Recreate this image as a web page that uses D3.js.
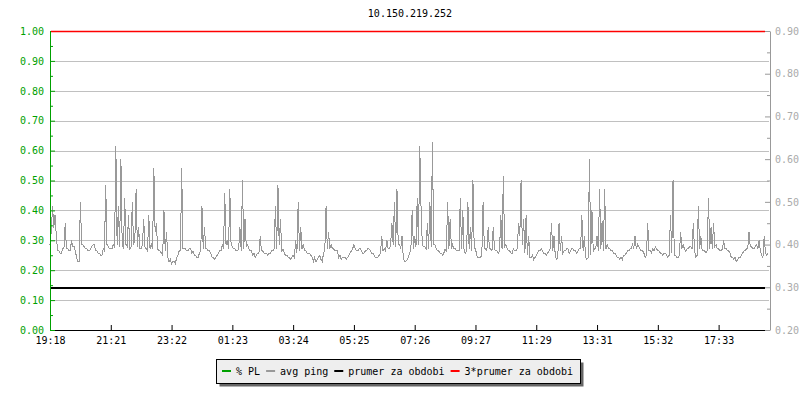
<!DOCTYPE html>
<html><head><meta charset="utf-8">
<script src="https://cdn.jsdelivr.net/npm/d3@7"></script>
<style>
body{margin:0;background:#fff}
svg{display:block}
text{font-family:"DejaVu Sans Mono","Liberation Mono",monospace;font-size:10px}
</style>
</head><body>
<svg id="c" width="800" height="400"></svg>
<script>
const chartTitle = "10.150.219.252";
const timeLabels = ["19:18","21:21","23:22","01:23","03:24","05:25","07:26","09:27","11:29","13:31","15:32","17:33"];
const labelStep = 48;
const leftTicks = [0,0.1,0.2,0.3,0.4,0.5,0.6,0.7,0.8,0.9,1.0];
const rightTicks = [0.2,0.3,0.4,0.5,0.6,0.7,0.8,0.9];
const legendLabels = ["% PL","avg ping","prumer za obdobi","3*prumer za obdobi"];
const seriesColors = ["#00a000","#999999","#000000","#ff0000"];
// avg ping (right axis), one value per sample
const avgPing = [
0.40,0.43,0.49,0.44,0.47,0.42,0.385,0.385,0.38,0.38,0.39,0.39,0.45,0.39,0.39,0.385,0.385,0.41,0.395,0.395,0.385,0.37,0.36,0.36,
0.50,0.40,0.40,0.395,0.39,0.39,0.385,0.385,0.39,0.395,0.40,0.40,0.385,0.385,0.38,0.38,0.375,0.375,0.39,0.385,0.54,0.40,0.395,0.39,
0.39,0.39,0.40,0.395,0.63,0.40,0.49,0.395,0.60,0.40,0.39,0.51,0.40,0.395,0.47,0.39,0.395,0.50,0.40,0.41,0.53,0.395,0.44,0.39,
0.39,0.40,0.46,0.395,0.39,0.385,0.47,0.39,0.40,0.39,0.58,0.43,0.45,0.39,0.385,0.385,0.38,0.375,0.48,0.385,0.43,0.37,0.36,0.365,
0.355,0.36,0.36,0.355,0.37,0.375,0.385,0.385,0.58,0.39,0.39,0.39,0.385,0.385,0.39,0.39,0.38,0.385,0.375,0.375,0.37,0.37,0.38,0.385,
0.49,0.39,0.44,0.39,0.39,0.385,0.385,0.38,0.37,0.37,0.365,0.37,0.375,0.38,0.385,0.385,0.40,0.39,0.52,0.40,0.41,0.39,0.53,0.40,
0.395,0.39,0.39,0.385,0.385,0.39,0.44,0.385,0.55,0.39,0.46,0.395,0.40,0.39,0.385,0.385,0.375,0.38,0.37,0.375,0.38,0.38,0.42,0.385,
0.385,0.38,0.38,0.38,0.375,0.38,0.38,0.385,0.385,0.39,0.49,0.39,0.54,0.40,0.46,0.385,0.39,0.38,0.375,0.375,0.37,0.37,0.365,0.37,
0.375,0.37,0.41,0.38,0.50,0.385,0.44,0.39,0.40,0.385,0.385,0.38,0.38,0.38,0.375,0.37,0.36,0.37,0.36,0.365,0.37,0.375,0.365,0.36,
0.38,0.385,0.49,0.39,0.43,0.39,0.40,0.39,0.39,0.385,0.385,0.385,0.37,0.375,0.365,0.37,0.37,0.37,0.365,0.37,0.375,0.38,0.385,0.39,
0.40,0.39,0.385,0.385,0.39,0.39,0.385,0.38,0.38,0.385,0.385,0.39,0.39,0.385,0.38,0.38,0.375,0.37,0.37,0.37,0.375,0.38,0.42,0.385,
0.39,0.385,0.41,0.39,0.39,0.40,0.45,0.40,0.50,0.395,0.53,0.40,0.40,0.39,0.42,0.37,0.36,0.36,0.365,0.37,0.38,0.39,0.48,0.39,
0.42,0.395,0.51,0.40,0.63,0.49,0.40,0.395,0.395,0.39,0.45,0.39,0.50,0.395,0.64,0.40,0.40,0.39,0.385,0.385,0.38,0.38,0.375,0.38,
0.39,0.385,0.50,0.39,0.46,0.39,0.40,0.39,0.39,0.385,0.385,0.385,0.51,0.39,0.48,0.385,0.38,0.385,0.50,0.39,0.44,0.385,0.55,0.39,
0.39,0.375,0.37,0.37,0.37,0.375,0.50,0.39,0.39,0.385,0.44,0.39,0.39,0.385,0.44,0.39,0.385,0.385,0.38,0.385,0.47,0.39,0.56,0.395,
0.40,0.39,0.385,0.385,0.38,0.38,0.39,0.385,0.385,0.39,0.45,0.42,0.55,0.40,0.46,0.38,0.47,0.375,0.42,0.37,0.37,0.375,0.365,0.37,
0.375,0.38,0.385,0.385,0.39,0.385,0.38,0.38,0.375,0.38,0.385,0.39,0.45,0.385,0.42,0.375,0.365,0.37,0.45,0.385,0.42,0.38,0.385,0.385,
0.39,0.39,0.38,0.385,0.39,0.39,0.385,0.385,0.38,0.385,0.39,0.39,0.47,0.385,0.42,0.37,0.365,0.37,0.60,0.375,0.48,0.385,0.39,0.39,
0.42,0.385,0.53,0.39,0.455,0.385,0.53,0.39,0.40,0.39,0.39,0.385,0.385,0.38,0.38,0.375,0.37,0.37,0.365,0.37,0.365,0.375,0.375,0.38,
0.385,0.385,0.39,0.39,0.40,0.39,0.42,0.39,0.40,0.395,0.39,0.385,0.385,0.38,0.37,0.375,0.45,0.385,0.385,0.38,0.39,0.385,0.395,0.39,
0.385,0.385,0.38,0.38,0.375,0.38,0.38,0.375,0.37,0.375,0.47,0.38,0.55,0.375,0.375,0.37,0.37,0.375,0.43,0.39,0.40,0.39,0.385,0.39,
0.39,0.395,0.395,0.39,0.45,0.385,0.37,0.375,0.49,0.39,0.42,0.385,0.385,0.385,0.38,0.385,0.51,0.39,0.44,0.39,0.45,0.395,0.40,0.39,
0.39,0.385,0.385,0.39,0.41,0.39,0.39,0.385,0.385,0.38,0.37,0.37,0.365,0.37,0.36,0.365,0.37,0.37,0.375,0.38,0.385,0.385,0.39,0.39,
0.43,0.395,0.395,0.39,0.39,0.395,0.40,0.39,0.41,0.385,0.375,0.37,0.42,0.38,0.375,0.38
];
// % PL (left axis): zero for the whole period
const plPct = [0, 0];
const prumer = 0.30;        // right axis
const prumer3 = 3 * prumer; // right axis

const svg = d3.select("#c");
const L = 50, R = 770, T = 31, B = 330, dataRight = 768;
const N = avgPing.length;
const x = d3.scaleLinear().domain([0, N - 1]).range([L, dataRight]);
const yL = d3.scaleLinear().domain([0, 1]).range([B, T]);
const yR = d3.scaleLinear().domain([0.2, 0.9]).range([B, T]);

// title
svg.append("text").attr("x", (L + R) / 2).attr("y", 17).attr("text-anchor", "middle")
  .attr("fill", "#000").text(chartTitle);

// grid
svg.append("g").selectAll("line").data(leftTicks.filter(d => d > 0)).join("line")
  .attr("x1", L + 1).attr("x2", R - 1)
  .attr("y1", d => Math.round(yL(d)) + 0.5).attr("y2", d => Math.round(yL(d)) + 0.5)
  .attr("stroke", "#c0c0c0").attr("stroke-width", 1);

// % PL line (left axis)
svg.append("line").attr("x1", x(0)).attr("x2", x(N - 1))
  .attr("y1", Math.round(yL(plPct[0])) + 0.5).attr("y2", Math.round(yL(plPct[1])) + 0.5)
  .attr("stroke", seriesColors[0]).attr("stroke-width", 1);

// avg ping
const line = d3.line().x((d, i) => x(i)).y(d => yR(d));
svg.append("path").datum(avgPing).attr("d", line)
  .attr("fill", "none").attr("stroke", seriesColors[1]).attr("stroke-width", 1)
  .attr("shape-rendering", "crispEdges");

// prumer line
svg.append("line").attr("x1", L + 1).attr("x2", R - 5)
  .attr("y1", Math.round(yR(prumer)) + 1).attr("y2", Math.round(yR(prumer)) + 1)
  .attr("stroke", seriesColors[2]).attr("stroke-width", 2);

// x axis
const xAxis = d3.axisBottom(x)
  .tickValues(timeLabels.map((d, i) => i * labelStep))
  .tickFormat((d, i) => timeLabels[i])
  .tickSizeInner(-5).tickSizeOuter(0).tickPadding(7);
const gx = svg.append("g").attr("transform", `translate(0,${B})`).call(xAxis);
gx.select(".domain").remove();
gx.selectAll("line").attr("stroke", "#000");
gx.selectAll("text").attr("fill", "#000").style("font-size", "10px")
  .style("font-family", "'DejaVu Sans Mono','Liberation Mono',monospace");
svg.append("line").attr("x1", L).attr("x2", R).attr("y1", B + 0.5).attr("y2", B + 0.5)
  .attr("stroke", "#000");

// left axis
const leftMinor = leftTicks.slice(0, -1).map(d => d + 0.05);
const gLm = svg.append("g").attr("transform", `translate(${L},0)`)
  .call(d3.axisLeft(yL).tickValues(leftMinor).tickFormat("").tickSizeInner(-3).tickSizeOuter(0));
gLm.select(".domain").remove();
gLm.selectAll("line").attr("stroke", seriesColors[0]);
const gL = svg.append("g").attr("transform", `translate(${L},0)`)
  .call(d3.axisLeft(yL).tickValues(leftTicks).tickFormat(d3.format(".2f"))
    .tickSizeInner(-5).tickSizeOuter(0).tickPadding(6));
gL.select(".domain").attr("stroke", seriesColors[0]);
gL.selectAll("line").attr("stroke", seriesColors[0]);
gL.selectAll("text").attr("fill", seriesColors[0]).style("font-size", "10px")
  .style("font-family", "'DejaVu Sans Mono','Liberation Mono',monospace");

// right axis
const rightMinor = rightTicks.slice(0, -1).map(d => d + 0.05);
const gRm = svg.append("g").attr("transform", `translate(${R},0)`)
  .call(d3.axisRight(yR).tickValues(rightMinor).tickFormat("").tickSizeInner(-3).tickSizeOuter(0));
gRm.select(".domain").remove();
gRm.selectAll("line").attr("stroke", "#999");
const gR = svg.append("g").attr("transform", `translate(${R},0)`)
  .call(d3.axisRight(yR).tickValues(rightTicks).tickFormat(d3.format(".2f"))
    .tickSizeInner(-5).tickSizeOuter(0).tickPadding(5));
gR.select(".domain").attr("stroke", "#999");
gR.selectAll("line").attr("stroke", "#999");
gR.selectAll("text").attr("fill", "#aaaaaa").style("font-size", "10px")
  .style("font-family", "'DejaVu Sans Mono','Liberation Mono',monospace");

// 3*prumer line on top of grid and axes
svg.append("line").attr("x1", L + 1).attr("x2", R - 5)
  .attr("y1", Math.round(yR(prumer3)) + 0.5).attr("y2", Math.round(yR(prumer3)) + 0.5)
  .attr("stroke", seriesColors[3]).attr("stroke-width", 1.5);

// legend
const lgX = 216, lgY = 359, lgW = 364, lgH = 24;
svg.append("rect").attr("x", lgX + 3.5).attr("y", lgY + 3.5).attr("width", lgW).attr("height", lgH)
  .attr("fill", "#666");
svg.append("rect").attr("x", lgX + 0.5).attr("y", lgY + 0.5).attr("width", lgW).attr("height", lgH)
  .attr("fill", "#eeeeee").attr("stroke", "#000");
let cx = lgX + 6;
const ly = lgY + 12;
legendLabels.forEach((lab, i) => {
  svg.append("line").attr("x1", cx).attr("x2", cx + 9).attr("y1", ly).attr("y2", ly)
    .attr("stroke", seriesColors[i]).attr("stroke-width", 2);
  const t = svg.append("text").attr("x", cx + 14).attr("y", ly).attr("dy", "0.35em")
    .attr("fill", "#000").text(lab);
  cx += 14 + t.node().getComputedTextLength() + 6;
});
</script>
</body></html>
